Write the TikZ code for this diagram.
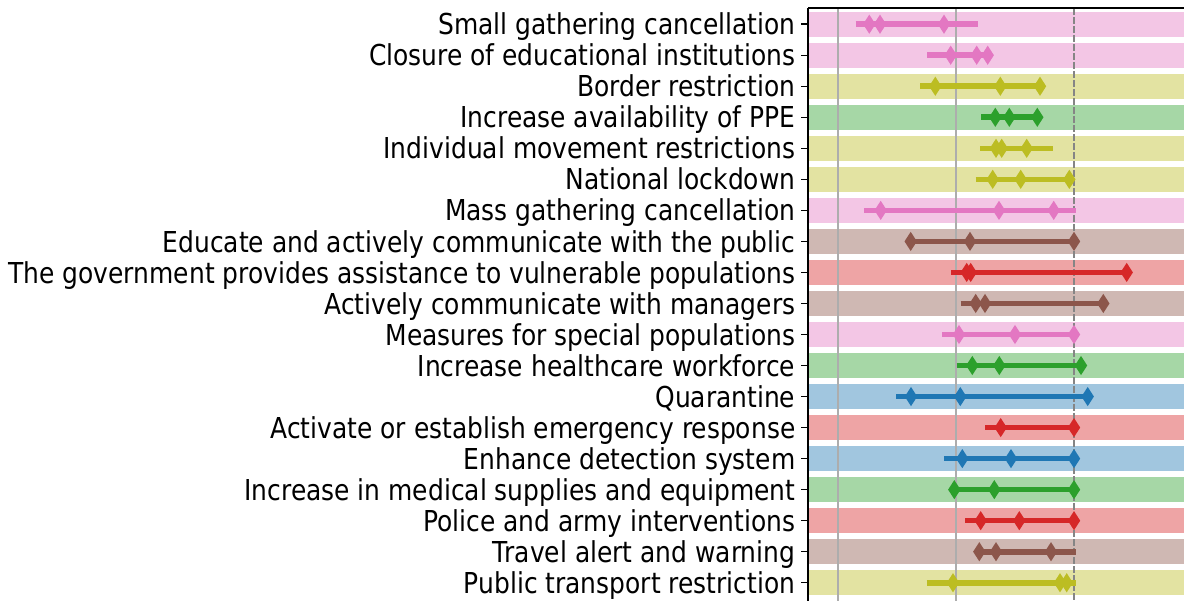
\documentclass[tikz,border=0pt]{standalone}
\usepackage{fontspec}
\newfontfamily\labfont[FakeStretch=0.866]{DejaVu Sans}
\definecolor{tblue}{HTML}{1F77B4}
\definecolor{tgreen}{HTML}{2CA02C}
\definecolor{tred}{HTML}{D62728}
\definecolor{tbrown}{HTML}{8C564B}
\definecolor{tpink}{HTML}{E377C2}
\definecolor{tolive}{HTML}{BCBD22}
\begin{document}
\begin{tikzpicture}[x=1pt,y=-1pt,
  band/.style={fill=#1!42!white, draw=none},
  gridline/.style={draw=black!32, line width=1.8pt},
  refline/.style={draw=black!48, line width=2pt, dash pattern=on 7pt off 2pt},
  spine/.style={draw=black, line width=1.6pt},
  tick/.style={draw=black, line width=1.4pt},
  rangeline/.style={draw=#1, line width=5.6pt},
  marker/.style={fill=#1, draw=none},
  lab/.style={font=\labfont\fontsize{28.8}{30}\selectfont, anchor=base east, inner sep=0pt, text=black}]
\useasboundingbox (0,0) rectangle (1184,601);
\begin{scope}
\clip (0,0) rectangle (1184,601);
% bands
\foreach \i/\c in {1/tpink,2/tpink,3/tolive,4/tgreen,5/tolive,6/tolive,7/tpink,8/tbrown,9/tred,10/tbrown,11/tpink,12/tgreen,13/tblue,14/tred,15/tblue,16/tgreen,17/tred,18/tbrown,19/tolive}{
  \pgfmathsetmacro\yy{24.2+(\i-1)*31.03}
  \path[band=\c] (809,\yy-12.4) rectangle (1190,\yy+12.4);
  \draw[tick] (801,\yy) -- (808,\yy);
}
% grid lines
\draw[gridline] (838.3,8) -- (838.3,610);
\draw[gridline] (955.7,8) -- (955.7,610);
\draw[refline] (1073.5,8) -- (1073.5,610);
% data
\foreach \i/\c/\a/\b/\ms in {
  1/tpink/855.7/977.7/{869.3,880,944},
  2/tpink/927/987.7/{950.7,976.7,987.7},
  3/tolive/920/1040/{935.3,1000.3,1040},
  4/tgreen/981/1037.3/{995.3,1009.3,1037.3},
  5/tolive/980.3/1052.7/{996,1001.7,1026.7},
  6/tolive/975.7/1069.3/{992.7,1020.7,1069.3},
  7/tpink/864.3/1076/{880.7,999,1053.7},
  8/tbrown/910.7/1074/{910.7,970,1074},
  9/tred/951/1126.7/{966.7,970.7,1126.7},
  10/tbrown/960.7/1103.3/{975.7,985,1103.3},
  11/tpink/942.3/1074/{959,1015,1074},
  12/tgreen/956.7/1081/{972.3,999.3,1081},
  13/tblue/896.3/1087.7/{911,960.3,1087.7},
  14/tred/985/1074/{1000.7,1074},
  15/tblue/944.3/1074/{962.3,1011,1074},
  16/tgreen/954.3/1074/{954.3,994.3,1074},
  17/tred/965.3/1074/{980.7,1019.3,1074},
  18/tbrown/979.3/1076/{979.3,996,1051},
  19/tolive/926.7/1076/{953,1060,1066.7}}{
  \pgfmathsetmacro\yy{24.2+(\i-1)*31.03}
  \draw[rangeline=\c] (\a,\yy) -- (\b,\yy);
  \foreach \m in \ms {
    \fill[marker=\c] (\m-6.2,\yy) -- (\m,\yy-9.6) -- (\m+6.2,\yy) -- (\m,\yy+9.6) -- cycle;
  }
}
% spines
\draw[spine] (808,8) -- (1190,8);
\draw[spine] (808,8) -- (808,610);
\end{scope}
% labels
\foreach \i/\t in {
  1/Small gathering cancellation,
  2/Closure of educational institutions,
  3/Border restriction,
  4/Increase availability of PPE,
  5/Individual movement restrictions,
  6/National lockdown,
  7/Mass gathering cancellation,
  8/Educate and actively communicate with the public,
  9/The government provides assistance to vulnerable populations,
  10/Actively communicate with managers,
  11/Measures for special populations,
  12/Increase healthcare workforce,
  13/Quarantine,
  14/Activate or establish emergency response,
  15/Enhance detection system,
  16/Increase in medical supplies and equipment,
  17/Police and army interventions,
  18/Travel alert and warning,
  19/Public transport restriction}{
  \pgfmathsetmacro\yy{24.2+(\i-1)*31.03+10.6}
  \node[lab] (lab\i) at (795.5,\yy) {\t};
}
\end{tikzpicture}
\end{document}
